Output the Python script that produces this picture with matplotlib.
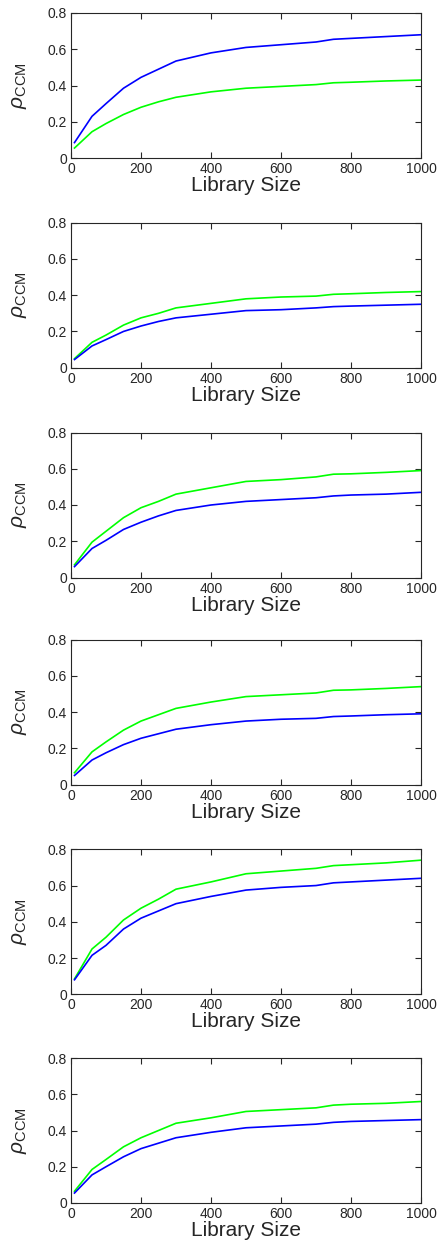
import matplotlib
matplotlib.use('Agg')
import matplotlib.pyplot as plt

plt.rcParams['font.family'] = ['Liberation Sans', 'DejaVu Sans']
plt.rcParams['mathtext.fontset'] = 'custom'
plt.rcParams['mathtext.rm'] = 'Liberation Sans'
plt.rcParams['mathtext.it'] = 'Liberation Sans:italic'

# Library sizes (x) shared by all panels
lib_size = [10, 60, 100, 150, 200, 250, 300, 400, 500, 600, 700, 750, 800, 900, 1000]

# rho_CCM per panel, blue and green curves
blue_1 = [0.085, 0.23, 0.30, 0.385, 0.445, 0.49, 0.535, 0.58, 0.61, 0.625, 0.64, 0.655, 0.66, 0.67, 0.68]
green_1 = [0.055, 0.145, 0.19, 0.24, 0.28, 0.31, 0.335, 0.365, 0.385, 0.395, 0.405, 0.415, 0.418, 0.425, 0.43]

blue_2 = [0.045, 0.12, 0.155, 0.20, 0.23, 0.255, 0.275, 0.295, 0.315, 0.32, 0.33, 0.337, 0.34, 0.345, 0.35]
green_2 = [0.05, 0.14, 0.18, 0.235, 0.275, 0.30, 0.33, 0.355, 0.38, 0.39, 0.395, 0.405, 0.408, 0.415, 0.42]

blue_3 = [0.06, 0.16, 0.205, 0.265, 0.305, 0.34, 0.37, 0.40, 0.42, 0.43, 0.44, 0.45, 0.455, 0.46, 0.47]
green_3 = [0.07, 0.195, 0.255, 0.33, 0.385, 0.42, 0.46, 0.495, 0.53, 0.54, 0.555, 0.57, 0.572, 0.58, 0.59]

blue_4 = [0.05, 0.135, 0.175, 0.22, 0.255, 0.28, 0.305, 0.33, 0.35, 0.36, 0.365, 0.375, 0.378, 0.385, 0.39]
green_4 = [0.065, 0.18, 0.235, 0.30, 0.35, 0.385, 0.42, 0.455, 0.485, 0.495, 0.505, 0.52, 0.522, 0.53, 0.54]

blue_5 = [0.08, 0.215, 0.27, 0.36, 0.42, 0.46, 0.50, 0.54, 0.575, 0.59, 0.60, 0.615, 0.62, 0.63, 0.64]
green_5 = [0.085, 0.25, 0.315, 0.41, 0.475, 0.525, 0.58, 0.62, 0.665, 0.68, 0.695, 0.71, 0.715, 0.725, 0.74]

blue_6 = [0.055, 0.155, 0.20, 0.255, 0.30, 0.33, 0.36, 0.39, 0.415, 0.425, 0.435, 0.445, 0.45, 0.455, 0.46]
green_6 = [0.065, 0.185, 0.24, 0.31, 0.36, 0.40, 0.44, 0.47, 0.505, 0.515, 0.525, 0.54, 0.545, 0.55, 0.56]

panels = [(blue_1, green_1), (blue_2, green_2), (blue_3, green_3),
          (blue_4, green_4), (blue_5, green_5), (blue_6, green_6)]

W, H = 441, 1247
fig = plt.figure(figsize=(W / 100, H / 100), dpi=100)

# axes pixel tops (top of the box), height in px
tops = [13, 222.7, 432.5, 639.5, 849.3, 1058]
ax_h = 145
ax_l, ax_w = 71, 350
dark = '#262626'

for (blue, green), top in zip(panels, tops):
    ax = fig.add_axes([ax_l / W, 1 - (top + ax_h) / H, ax_w / W, ax_h / H])
    ax.plot(lib_size, green, color='#00ff00', lw=1.2)
    ax.plot(lib_size, blue, color='#0000ff', lw=1.2)
    ax.set_xlim(0, 1000)
    ax.set_ylim(0, 0.8)
    ax.set_xticks([0, 200, 400, 600, 800, 1000])
    ax.set_yticks([0, 0.2, 0.4, 0.6, 0.8])
    ax.set_yticklabels(['0', '0.2', '0.4', '0.6', '0.8'])
    ax.tick_params(direction='in', top=True, right=True, length=4, width=0.8,
                   labelsize=10, colors=dark, pad=3)
    for s in ax.spines.values():
        s.set_color(dark)
        s.set_linewidth(0.8)
    ax.set_xlabel('Library Size', fontsize=15, color=dark, labelpad=0)
    ax.set_ylabel(r'$\mathit{\rho}_{\mathrm{CCM}}$', fontsize=15, color=dark)
    ax.yaxis.set_label_coords(-0.12, 0.5)

fig.savefig('out.png', dpi=100, facecolor='white')
plt.close()
